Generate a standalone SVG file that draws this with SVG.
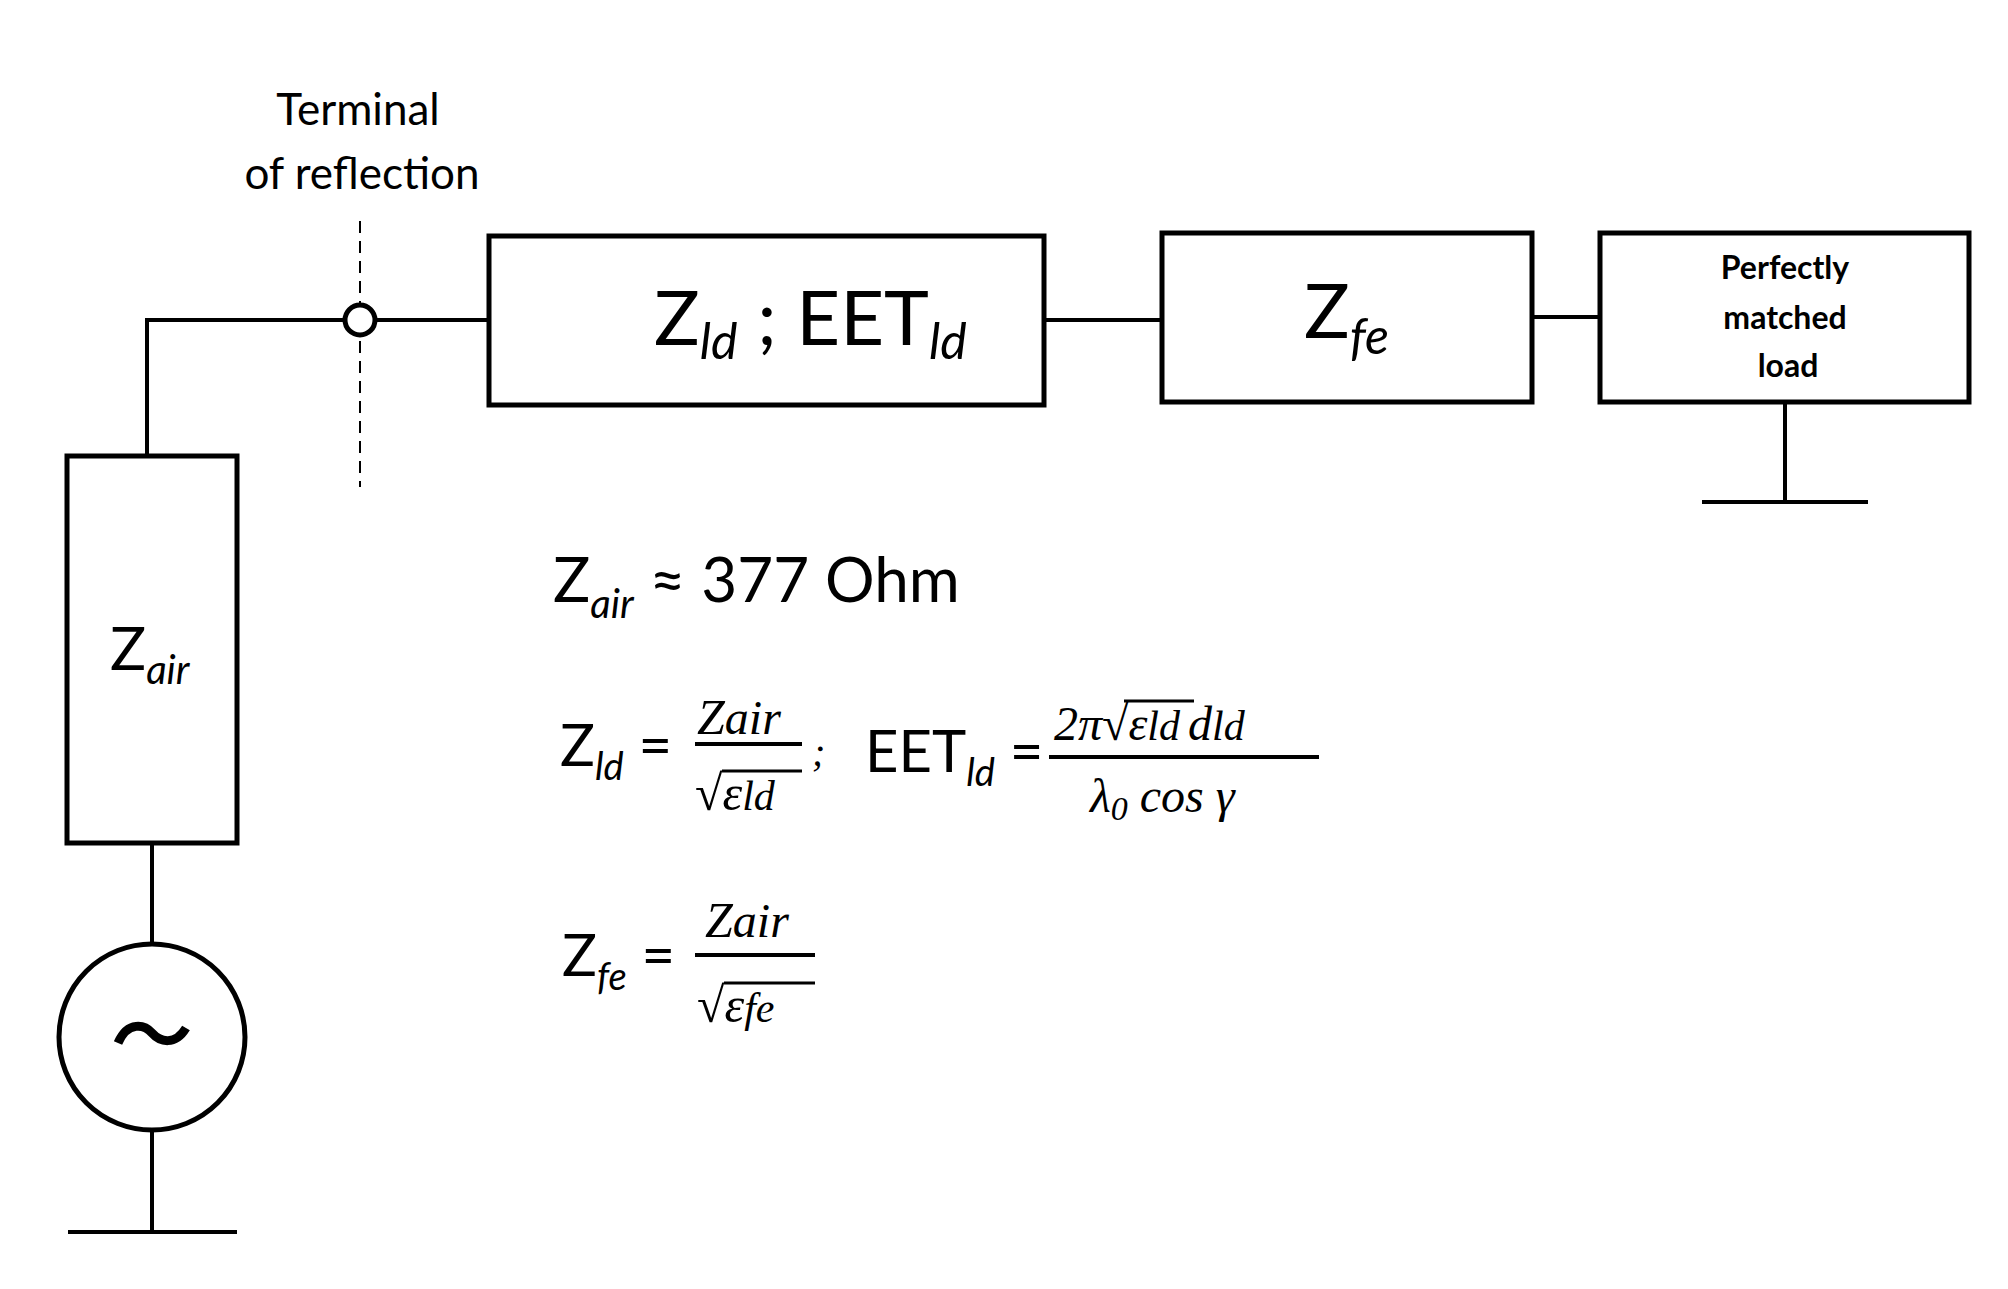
<svg xmlns="http://www.w3.org/2000/svg" width="2008" height="1289" viewBox="0 0 2008 1289">
<style>
.b{fill:#fff;stroke:#000;stroke-width:5}
.w{stroke:#000;stroke-width:4;fill:none}
.t{font-family:Lato,"Open Sans",sans-serif;fill:#000}
.m{font-family:"Liberation Serif",serif;font-style:italic;fill:#000}
.i{font-style:italic}
</style>
<rect width="2008" height="1289" fill="#fff"/>
<g id="connectors">
<path class="w" d="M147 456V320H345M375 320H489"/>
<path class="w" d="M1044 320H1162M1532 317H1600"/>
<path class="w" d="M152 843V944M152 1130V1232M68 1232H237"/>
<path class="w" d="M1785 402V502M1702 502H1868"/>
<path d="M360 221V487" stroke="#000" stroke-width="2" stroke-dasharray="12,8"/>
</g>
<g id="terminal">
<circle cx="360" cy="320" r="15" class="b" stroke-width="4"/>
<text class="t" x="358" y="125" font-size="44" text-anchor="middle">Terminal</text>
<text class="t" x="362" y="189" font-size="44" text-anchor="middle">of reflection</text>
</g>
<g id="zair"><rect class="b" x="67" y="456" width="170" height="387"/>
<text class="t" x="110" y="670" font-size="60">Z<tspan class="i" font-size="40" dy="14">air</tspan></text></g>
<g id="source"><circle class="b" cx="152" cy="1037" r="93"/>
<path d="M118 1043C128 1020 145 1025 152 1033C160 1042 175 1046 186 1028" stroke="#000" stroke-width="9" fill="none"/></g>
<g id="zld"><rect class="b" x="489" y="236" width="555" height="169"/>
<text class="t" x="654" y="345" font-size="76">Z<tspan class="i" font-size="50" dy="14">ld</tspan><tspan dy="-14"> ; EET</tspan><tspan class="i" font-size="50" dy="14">ld</tspan></text></g>
<g id="zfe"><rect class="b" x="1162" y="233" width="370" height="169"/>
<text class="t" x="1304" y="338" font-size="76">Z<tspan class="i" font-size="50" dy="16">fe</tspan></text></g>
<g id="load"><rect class="b" x="1600" y="233" width="369" height="169"/>
<text class="t" font-weight="bold" font-size="32" text-anchor="middle"><tspan x="1785" y="279">Perfectly</tspan><tspan x="1785" y="329">matched</tspan><tspan x="1788" y="377">load</tspan></text></g>
<g id="formulas">
<text class="t" x="553" y="602" font-size="62">Z<tspan class="i" font-size="40" dy="16">air</tspan><tspan dy="-16"> ≈ 377 Ohm</tspan></text>
<text class="t" x="560" y="766" font-size="58">Z<tspan class="i" font-size="38" dy="14">ld</tspan><tspan dy="-14"> =</tspan></text>
<text class="m" x="697" y="734" font-size="50">Z<tspan font-size="48">air</tspan></text>
<line x1="695" y1="744" x2="802" y2="744" class="w"/>
<text class="m" x="695" y="810" font-size="50" font-style="normal">√<tspan font-style="italic">ε<tspan font-size="42">ld</tspan></tspan></text>
<line x1="722" y1="771" x2="802" y2="771" stroke="#000" stroke-width="3"/>
<text class="m" x="812" y="766" font-size="40">;</text>
<text class="t" x="865" y="772" font-size="58">EET<tspan class="i" font-size="38" dy="14">ld</tspan><tspan dy="-14"> =</tspan></text>
<text class="m" x="1054" y="740" font-size="48" font-style="normal">2<tspan font-style="italic">π</tspan>√<tspan font-style="italic">ε<tspan font-size="42">ld</tspan><tspan dx="8">d</tspan><tspan font-size="42">ld</tspan></tspan></text>
<line x1="1124" y1="701" x2="1194" y2="701" stroke="#000" stroke-width="3"/>
<line x1="1049" y1="757" x2="1319" y2="757" class="w"/>
<text class="m" x="1090" y="812" font-size="48" font-style="normal">λ<tspan font-size="34" dy="8">0</tspan><tspan dy="-8"> cos </tspan><tspan font-style="italic">γ</tspan></text>
<text class="t" x="562" y="976" font-size="58">Z<tspan class="i" font-size="38" dy="14">fe</tspan><tspan dy="-14"> =</tspan></text>
<text class="m" x="705" y="937" font-size="50">Z<tspan font-size="48">air</tspan></text>
<line x1="695" y1="955" x2="815" y2="955" class="w"/>
<text class="m" x="697" y="1022" font-size="50" font-style="normal">√<tspan font-style="italic">ε<tspan font-size="42">fe</tspan></tspan></text>
<line x1="724" y1="983" x2="815" y2="983" stroke="#000" stroke-width="3"/>
</g>
</svg>
